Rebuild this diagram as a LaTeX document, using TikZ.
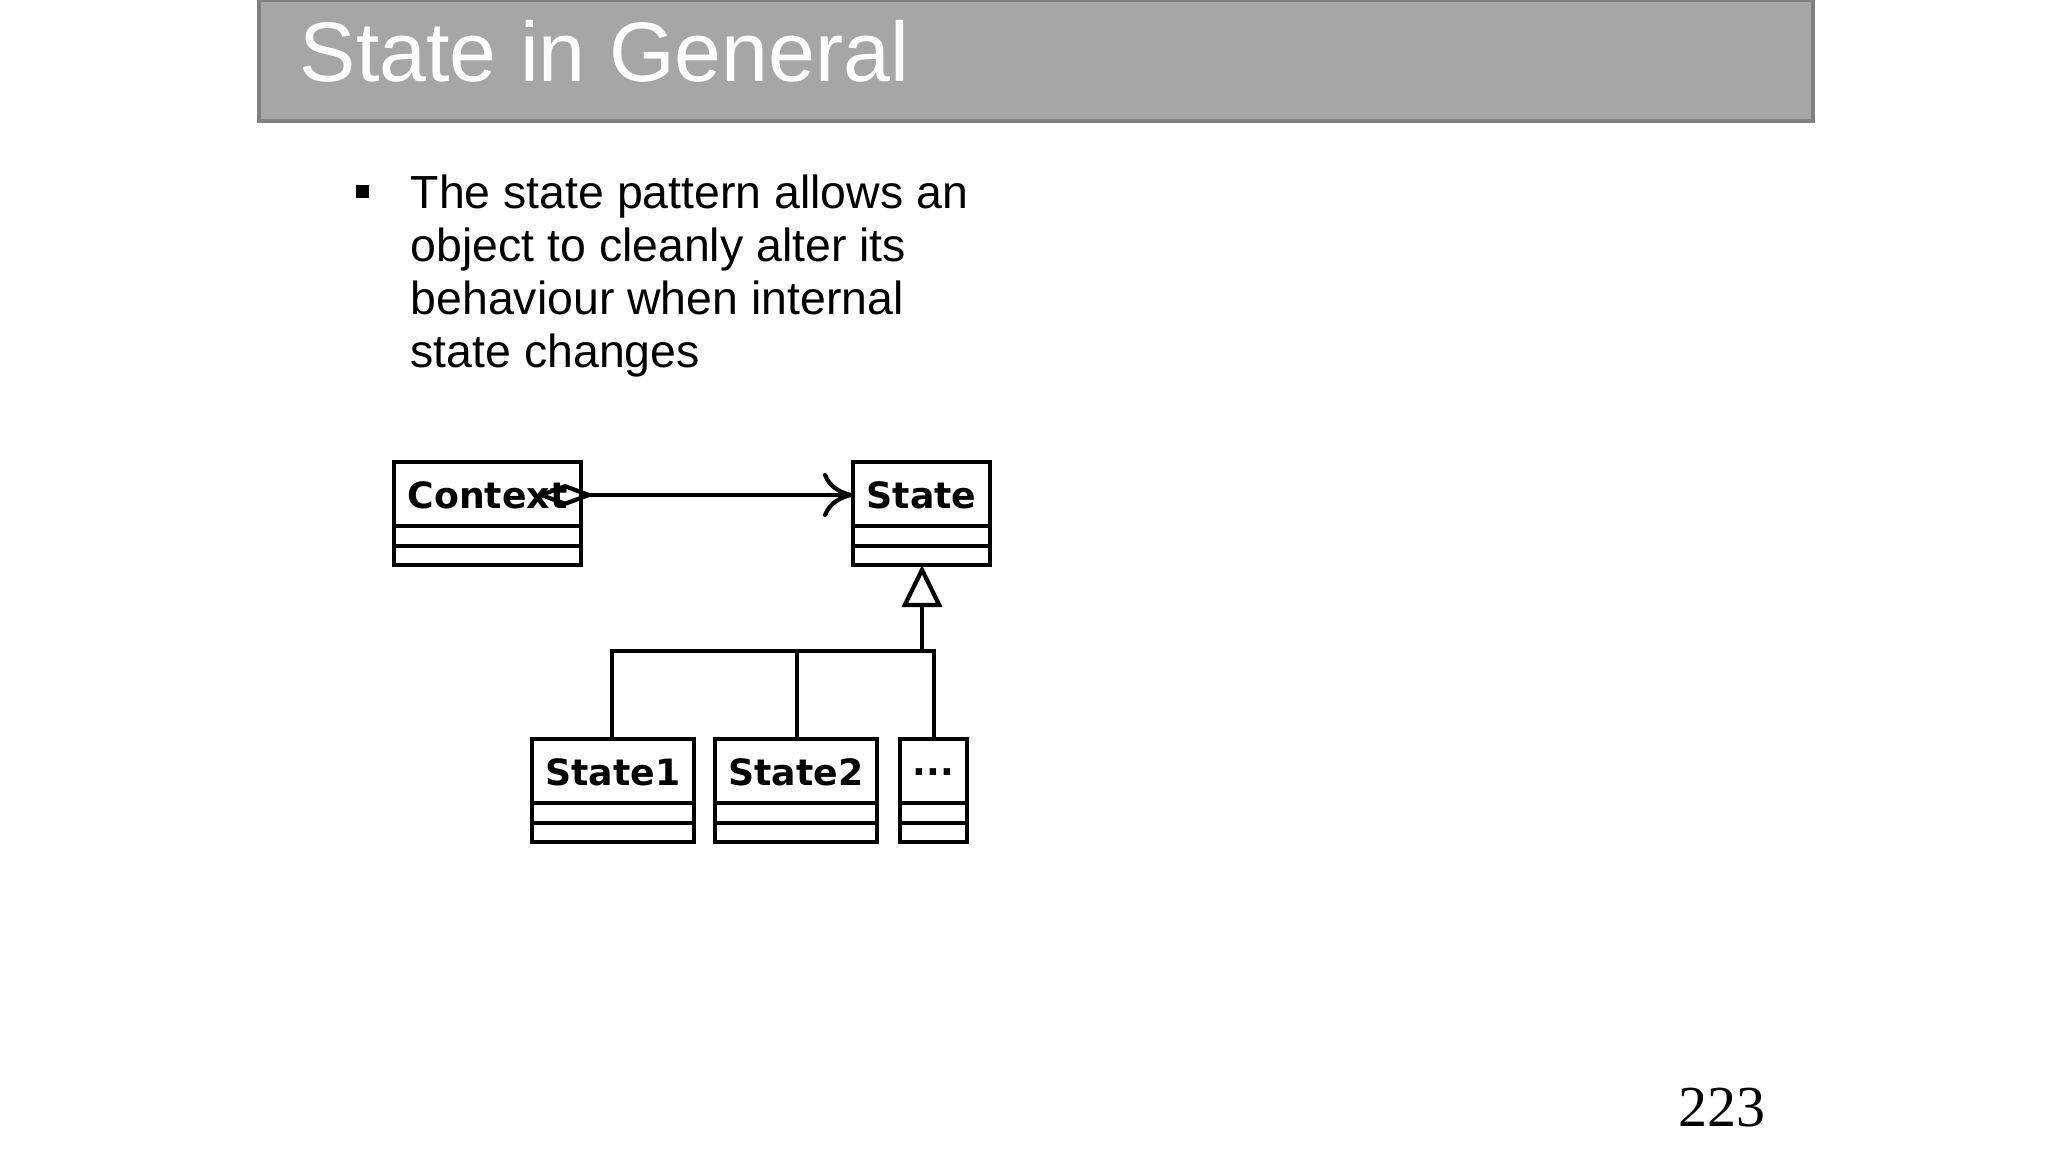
\documentclass[tikz,border=0pt]{standalone}
\usepackage{fontspec}
\setmainfont{Liberation Sans}
\newfontfamily\umlfont{DejaVu Sans}
\newfontfamily\pagefont{Liberation Serif}
\usetikzlibrary{arrows.meta}

\tikzset{
  umlline/.style={line width=1.4pt, black},
  umlname/.style={font=\umlfont\bfseries\fontsize{10.3}{12}\selectfont, inner sep=0pt}
}
% class box: name, left, top, right, label
\newcommand{\umlclass}[5]{
  \draw[umlline] (#2,#3) rectangle (#4,#3+103);
  \draw[umlline] (#2,#3+64) -- (#4,#3+64);
  \draw[umlline] (#2,#3+84) -- (#4,#3+84);
  \node[umlname] (#1) at ({(#2+#4)/2},#3+33) {#5};
  \coordinate (#1 west) at (#2,#3+33);
  \coordinate (#1 north) at ({(#2+#4)/2},#3);
  \coordinate (#1 south) at ({(#2+#4)/2},#3+103);
}

\begin{document}
\begin{tikzpicture}[x=0.01cm, y=-0.01cm]
\useasboundingbox (0,0) rectangle (2048,1152);

%title bar
\draw[fill={rgb,255:red,166;green,166;blue,166}, draw={rgb,255:red,128;green,128;blue,128}, line width=1.2pt]
  (259,0) rectangle (1813,121);
\node[anchor=base west, inner sep=0pt, text=white, font=\fontsize{24}{28}\selectfont] (title) at (299,82) {State in General};

%bullet
\node[fill=black, inner sep=0pt, minimum size=0.13cm] (dot) at (362,192) {};
\node[anchor=north west, inner sep=0pt, align=left, font=\fontsize{13.2}{15.1}\selectfont] (text) at (410,174)
  {The state pattern allows an\\object to cleanly alter its\\behaviour when internal\\state changes};

%classes
\umlclass{ctx}{394}{462}{581}{Context}
\umlclass{state}{853}{462}{990}{State}
\umlclass{st1}{532}{739}{694}{State1}
\umlclass{st2}{715}{739}{877}{State2}
\umlclass{more}{900}{739}{967}{...}

%aggregation
\draw[umlline, {Diamond[open, length=0.6cm, width=0.22cm, line width=1.2pt]}-{To[length=0.3cm, width=0.44cm, line width=1.2pt]}]
  (535,495) -- (state west);

%inheritance
\coordinate (joint) at (922,651);
\draw[umlline, -{Triangle[open, length=0.42cm, width=0.4cm, line width=1.2pt]}] (joint) -- (922,565);
\draw[umlline] (612,739) |- (934,651) -- (934,739);
\draw[umlline] (797,651) -- (797,739);

%page number
\node[anchor=base east, inner sep=0pt, font=\pagefont\fontsize{16.5}{18}\selectfont] (page) at (1766,1126) {223};
\end{tikzpicture}
\end{document}
